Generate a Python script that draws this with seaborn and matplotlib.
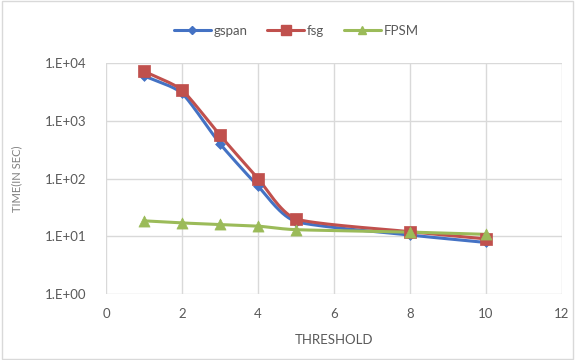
import numpy as np
import pandas as pd
import matplotlib
matplotlib.use("Agg")
import matplotlib.pyplot as plt
from matplotlib.lines import Line2D
from matplotlib.patches import Rectangle
import seaborn as sns

threshold = [1, 2, 3, 4, 5, 8, 10]
gspan = [6000, 3000, 400, 74, 18, 10.5, 7.8]
fsg = [7200, 3400, 560, 100, 20, 12, 9]
fpsm = [18.5, 17, 16, 15, 13, 11.8, 10.8]

series_names = ["gspan", "fsg", "FPSM"]
colors = {"gspan": "#4472C4", "fsg": "#C0504D", "FPSM": "#9BBB59"}
markers = {"gspan": "D", "fsg": "s", "FPSM": "^"}
msizes = {"gspan": 5, "fsg": 8.5, "FPSM": 8}

df = pd.DataFrame({"threshold": threshold, "gspan": gspan, "fsg": fsg, "FPSM": fpsm})
long = df.melt(id_vars="threshold", var_name="series", value_name="time")


def smooth(x, y, n=30):
    """Catmull-Rom curve through the points, in (x, log10 y) space."""
    x = np.asarray(x, float)
    ly = np.log10(np.asarray(y, float))
    px = np.concatenate([[2 * x[0] - x[1]], x, [2 * x[-1] - x[-2]]])
    py = np.concatenate([[2 * ly[0] - ly[1]], ly, [2 * ly[-1] - ly[-2]]])
    xs, ys = [], []
    for i in range(1, len(px) - 2):
        t = np.linspace(0, 1, n, endpoint=False)
        for arr, out in ((px, xs), (py, ys)):
            p0, p1, p2, p3 = arr[i - 1], arr[i], arr[i + 1], arr[i + 2]
            m1 = (p2 - p0) / 2 * 0.6
            m2 = (p3 - p1) / 2 * 0.6
            h00 = 2 * t**3 - 3 * t**2 + 1
            h10 = t**3 - 2 * t**2 + t
            h01 = -2 * t**3 + 3 * t**2
            h11 = t**3 - t**2
            out.extend(h00 * p1 + h10 * m1 + h01 * p2 + h11 * m2)
    xs.append(x[-1])
    ys.append(ly[-1])
    return np.array(xs), 10 ** np.array(ys)


sns.set_style("white")
plt.rcParams["font.family"] = ["Lato", "DejaVu Sans"]

fig = plt.figure(figsize=(5.75, 3.6), dpi=100)
fig.patches.append(Rectangle((0.003, 0.003), 0.994, 0.994, transform=fig.transFigure,
                             fill=False, edgecolor="#D9D9D9", linewidth=1))
ax = fig.add_axes([0.1843, 0.1833, 0.7931, 0.6417])

curves = []
for name in series_names:
    sx, sy = smooth(threshold, df[name])
    curves.append(pd.DataFrame({"threshold": sx, "time": sy, "series": name}))
curves = pd.concat(curves, ignore_index=True)

sns.lineplot(data=curves, x="threshold", y="time", hue="series", palette=colors,
             hue_order=series_names, sort=False, estimator=None, linewidth=2.2,
             legend=False, ax=ax, zorder=2)
for name in series_names:
    sub = long[long.series == name]
    sns.scatterplot(data=sub, x="threshold", y="time", color=colors[name],
                    marker=markers[name], s=msizes[name] ** 2, edgecolor=colors[name],
                    linewidth=0.5, legend=False, ax=ax, zorder=3)

ax.set_yscale("log")
ax.set_xlim(0, 12)
ax.set_ylim(1, 1e4)
ax.set_xticks([0, 2, 4, 6, 8, 10, 12])
ax.set_yticks([1, 10, 100, 1000, 10000])
ax.set_yticklabels(["1.E+00", "1.E+01", "1.E+02", "1.E+03", "1.E+04"])
ax.yaxis.set_minor_locator(matplotlib.ticker.NullLocator())
ax.grid(True, color="#D9D9D9", linewidth=1)
ax.set_axisbelow(True)
for sp in ax.spines.values():
    sp.set_visible(False)
ax.tick_params(axis="both", length=0, labelsize=9.5, colors="#595959", pad=10)
ax.tick_params(axis="y", pad=14)
ax.set_xlabel("THRESHOLD", fontsize=9.5, color="#595959", labelpad=10)
ax.set_ylabel("TIME(IN SEC)", fontsize=8, color="#7F7F7F", labelpad=16)

handles = [Line2D([0], [0], color=colors[n], marker=markers[n], markersize=msizes[n] * 0.8,
                  linewidth=2.2) for n in series_names]
fig.legend(handles, series_names, loc="center", bbox_to_anchor=(0.515, 0.915), ncol=3,
           frameon=False, fontsize=9.5, handlelength=2.8, columnspacing=1.5,
           handletextpad=0.2, labelcolor="#595959")

fig.savefig("out.png", dpi=100)
